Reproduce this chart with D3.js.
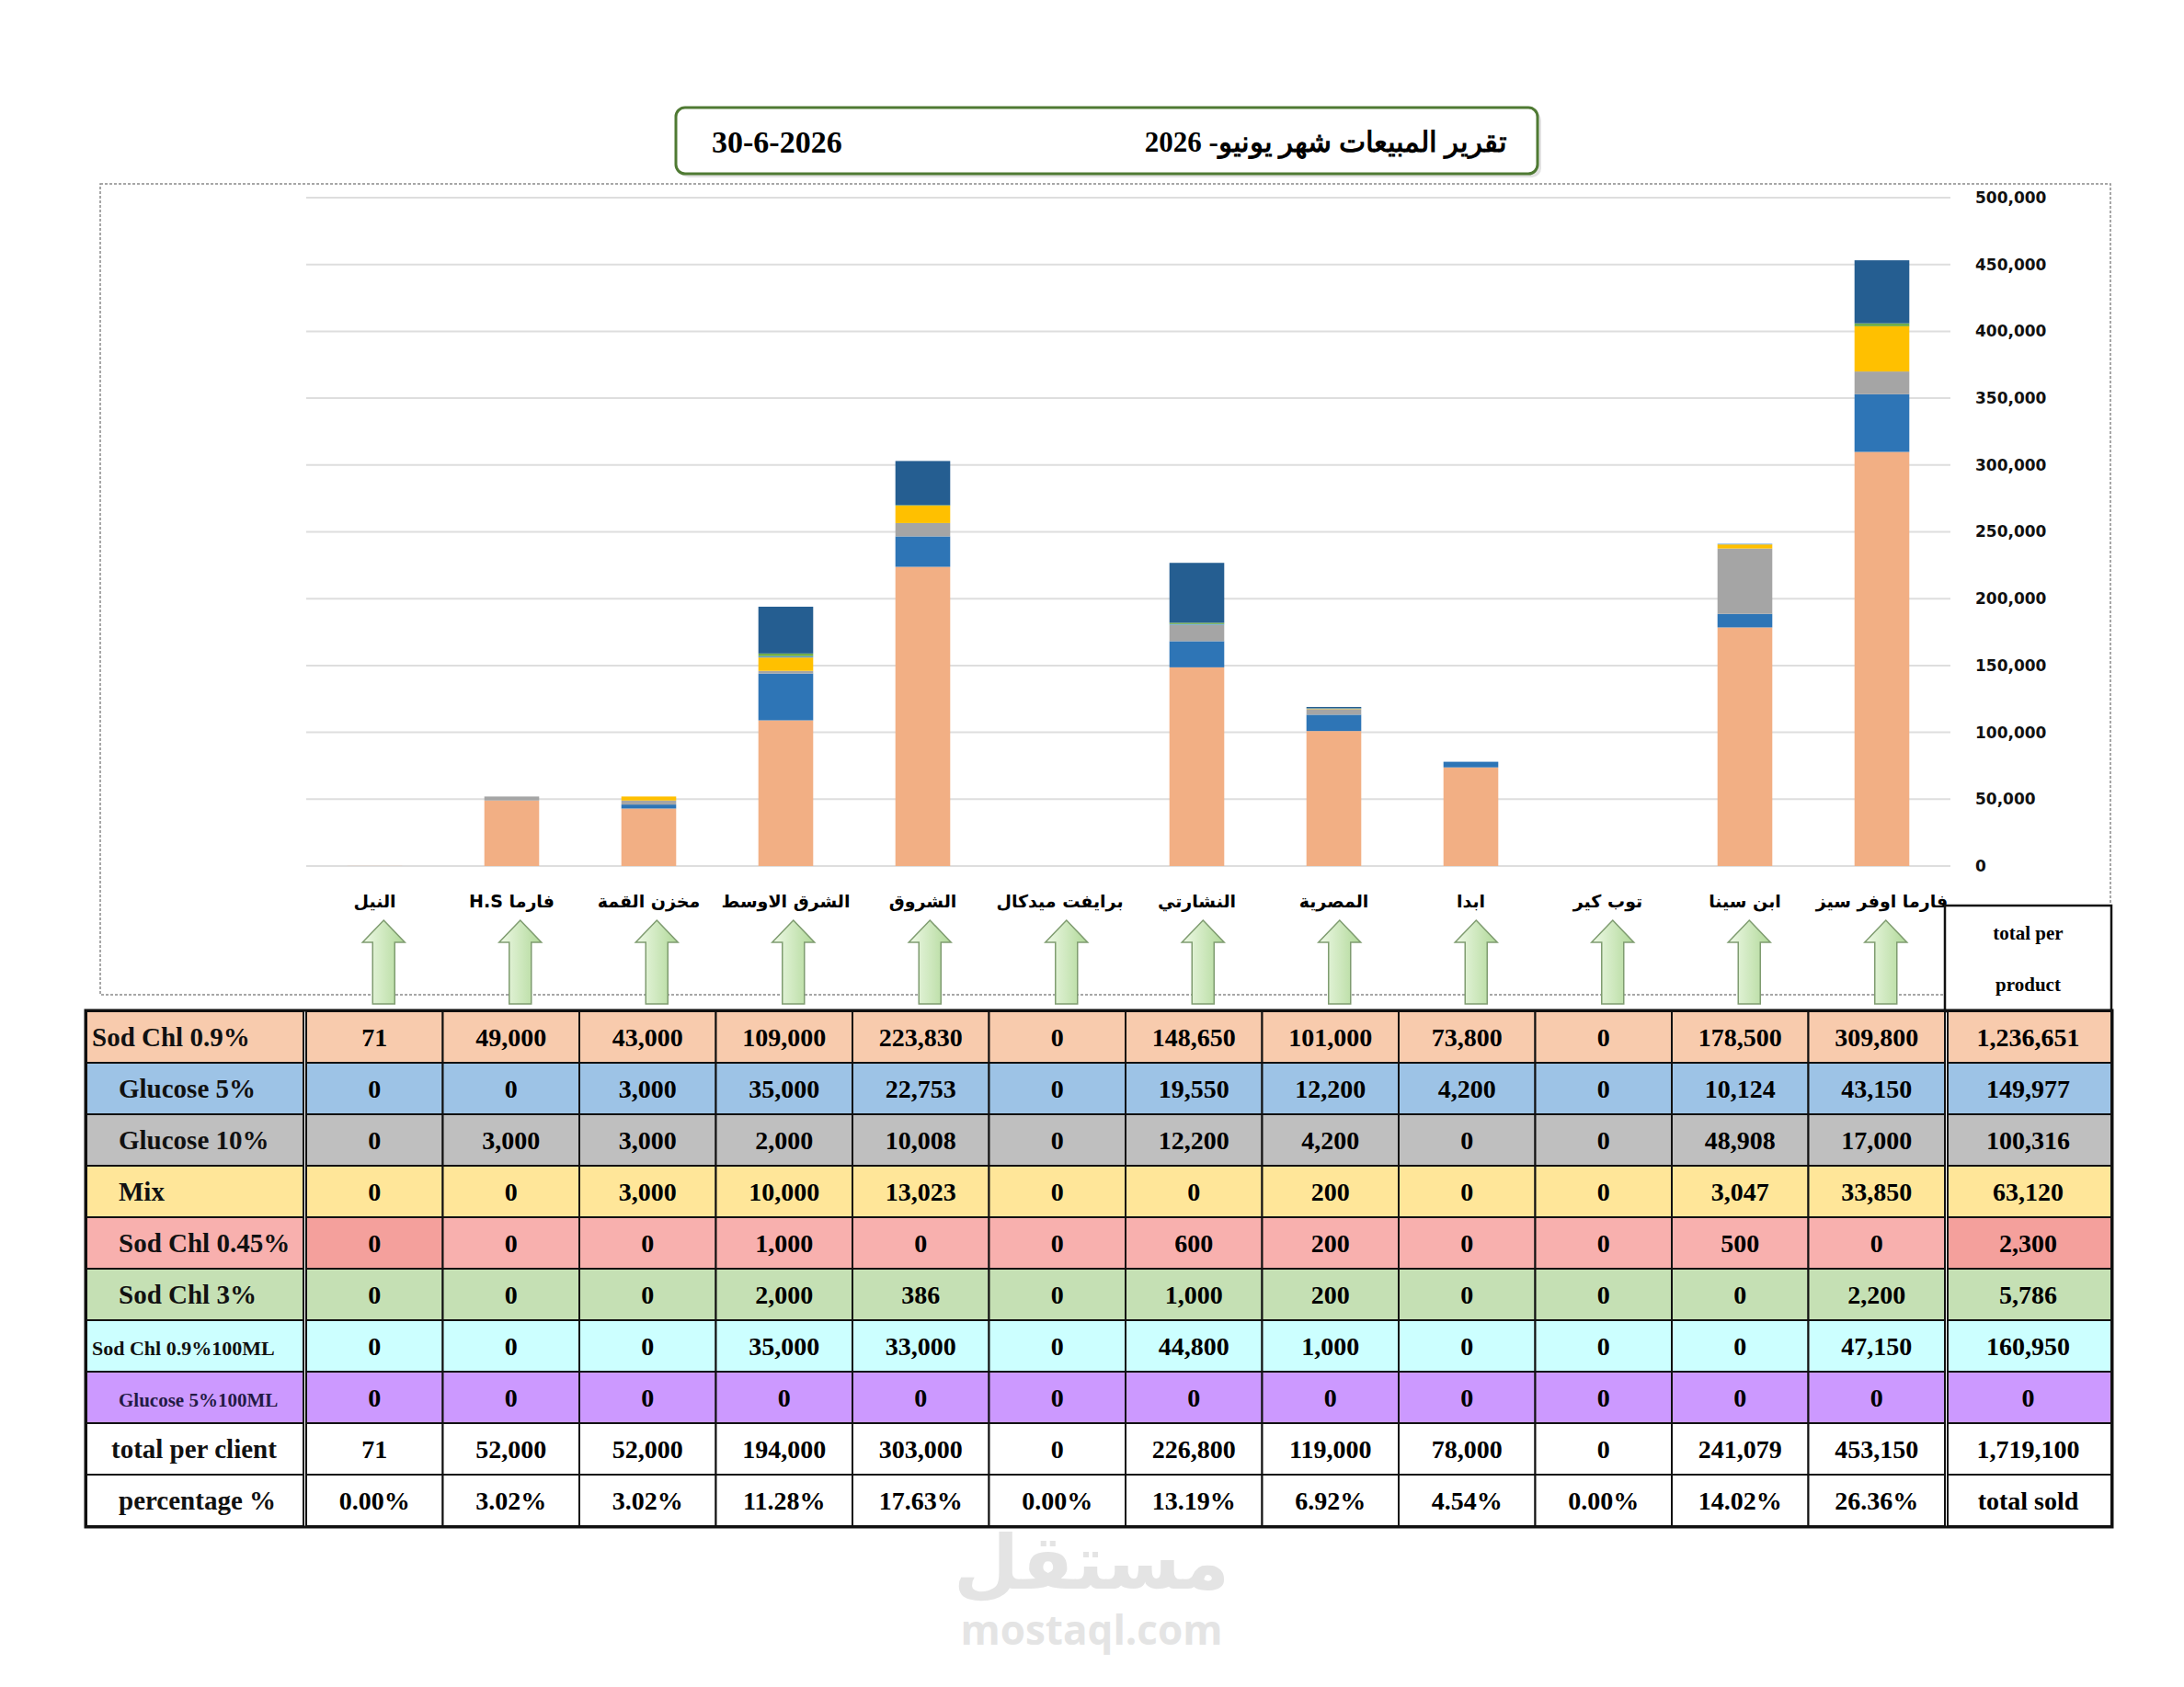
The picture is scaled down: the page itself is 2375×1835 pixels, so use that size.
<!DOCTYPE html>
<html>
<head>
<meta charset="utf-8">
<script src="https://cdn.jsdelivr.net/npm/d3@7"></script>
<style>
  body { margin: 0; background: #fff; }
  text { font-weight: bold; }
</style>
</head>
<body>
<div id="chart"></div>
<script>
// monthly sales report: stacked bars per client + table of product counts under it

// clients, left to right as in the sheet
var clients = ["النيل", "فارما H.S", "مخزن القمة", "الشرق الاوسط", "الشروق", "برايفت ميدكال",
  "النشارتي", "المصرية", "ابدا", "توب كير", "ابن سينا", "فارما اوفر سيز"];

// products (table rows / stack order)
var products = ["Sod Chl 0.9%", "Glucose 5%", "Glucose 10%", "Mix", "Sod Chl 0.45%",
  "Sod Chl 3%", "Sod Chl 0.9%100ML", "Glucose 5%100ML"];

// sold units per client, one array per product
var sodChl09    = [71, 49000, 43000, 109000, 223830, 0, 148650, 101000, 73800, 0, 178500, 309800];
var glucose5    = [0, 0, 3000, 35000, 22753, 0, 19550, 12200, 4200, 0, 10124, 43150];
var glucose10   = [0, 3000, 3000, 2000, 10008, 0, 12200, 4200, 0, 0, 48908, 17000];
var mix         = [0, 0, 3000, 10000, 13023, 0, 0, 200, 0, 0, 3047, 33850];
var sodChl045   = [0, 0, 0, 1000, 0, 0, 600, 200, 0, 0, 500, 0];
var sodChl3     = [0, 0, 0, 2000, 386, 0, 1000, 200, 0, 0, 0, 2200];
var sodChl09_100 = [0, 0, 0, 35000, 33000, 0, 44800, 1000, 0, 0, 0, 47150];
var glucose5_100 = [0, 0, 0, 0, 0, 0, 0, 0, 0, 0, 0, 0];

var yTicks = [0, 50000, 100000, 150000, 200000, 250000, 300000, 350000, 400000, 450000, 500000];

var series = [sodChl09, glucose5, glucose10, mix, sodChl045, sodChl3, sodChl09_100, glucose5_100];

// bar colours (excel chart) and row colours (table)
var barColors = ["#F2AF84", "#2E75B6", "#A5A5A5", "#FFC000", "#5B9BD5", "#70AD47", "#255E91", "#7030A0"];
var rowColors = ["#F8CBAD", "#9DC3E6", "#BFBFBF", "#FFE699", "#F8B0AE", "#C5E0B4", "#CCFFFF", "#CC99FF"];

var svgWidth = 2375;
var svgHeight = 1835;

var svg = d3.select("#chart")
  .append("svg")
  .attr("width", svgWidth)
  .attr("height", svgHeight)
  .style("font-family", "'Liberation Serif', 'Times New Roman', serif");

// build one row object per client for d3.stack
var data = clients.map(function (c, i) {
  var row = { client: c };
  products.forEach(function (p, j) { row[p] = series[j][i]; });
  return row;
});
var clientTotals = clients.map(function (c, i) { return d3.sum(series, s => s[i]); });
var productTotals = series.map(s => d3.sum(s));
var grandTotal = d3.sum(clientTotals);

var fmt = d3.format(",");

// ---------- title box ----------
svg.append("rect")
  .attr("x", 739).attr("y", 121).attr("width", 937).attr("height", 72)
  .attr("rx", 10).attr("fill", "#cfcfcf").attr("opacity", 0.6);
svg.append("rect")
  .attr("x", 735).attr("y", 117).attr("width", 937).attr("height", 72)
  .attr("rx", 10).attr("fill", "#fff").attr("stroke", "#4f7a33").attr("stroke-width", 3);

svg.append("text")
  .attr("x", 1639).attr("y", 165)
  .attr("direction", "rtl")
  .attr("text-anchor", "start")
  .attr("font-size", 31)
  .text("تقرير المبيعات شهر يونيو- 2026");

svg.append("text")
  .attr("x", 774).attr("y", 166)
  .attr("font-size", 34)
  .text("30-6-2026");

// ---------- chart area ----------
svg.append("rect")
  .attr("x", 109).attr("y", 200).attr("width", 2186).attr("height", 882)
  .attr("fill", "none").attr("stroke", "#8a8a8a")
  .attr("stroke-width", 1.5).attr("stroke-dasharray", "3,2");

var x = d3.scaleBand()
  .domain(clients)
  .range([333, 2121])
  .paddingInner(0.6)
  .paddingOuter(0.3);

var y = d3.scaleLinear()
  .domain([0, 500000])
  .range([942, 215]);

// gridlines
svg.append("g")
  .selectAll("line")
  .data(yTicks)
  .enter()
  .append("line")
  .attr("x1", 333).attr("x2", 2121)
  .attr("y1", d => y(d)).attr("y2", d => y(d))
  .attr("stroke", "#dedede").attr("stroke-width", 2);

// right axis labels
var rightAxis = d3.axisRight(y).tickValues(yTicks).tickSize(0).tickPadding(27).tickFormat(fmt);
var yAxis = svg.append("g")
  .attr("transform", "translate(2121,0)")
  .call(rightAxis);
yAxis.select(".domain").remove();
yAxis.selectAll("text")
  .attr("font-family", "'DejaVu Sans', Verdana, sans-serif")
  .attr("font-size", 17)
  .attr("font-weight", "bold")
  .attr("fill", "#111");

// stacked bars
var stack = d3.stack().keys(products);
var layers = stack(data);

svg.append("g")
  .selectAll("g")
  .data(layers)
  .enter()
  .append("g")
  .attr("fill", (d, i) => barColors[i])
  .selectAll("rect")
  .data(d => d)
  .enter()
  .append("rect")
  .attr("x", d => x(d.data.client))
  .attr("y", d => y(d[1]))
  .attr("width", x.bandwidth())
  .attr("height", d => y(d[0]) - y(d[1]));

// category labels
svg.append("g")
  .selectAll("text")
  .data(clients)
  .enter()
  .append("text")
  .attr("x", d => x(d) + x.bandwidth() / 2)
  .attr("y", 987)
  .attr("direction", "rtl")
  .attr("text-anchor", "middle")
  .attr("font-family", "'DejaVu Sans', sans-serif")
  .attr("font-size", 19)
  .text(d => d);

// ---------- table ----------
var tableLeft = 94, labelRight = 333, dataRight = 2115, tableRight = 2296;
var rowNames = products.concat(["total per client", "percentage %"]);

var col = d3.scaleBand().domain(clients).range([labelRight, dataRight]);
var row = d3.scaleBand().domain(d3.range(rowNames.length)).range([1100, 1660]);

// arrows from table columns up to the bars
var defs = svg.append("defs");
var grad = defs.append("linearGradient").attr("id", "arrowFill");
grad.append("stop").attr("offset", "0%").attr("stop-color", "#eef9e6");
grad.append("stop").attr("offset", "100%").attr("stop-color", "#b0d898");

var arrowPath = function (cx) {
  var top = 1001, headH = 24, headW = 23, shaft = 12, bottom = 1092;
  return "M" + cx + "," + top +
    "L" + (cx + headW) + "," + (top + headH) +
    "L" + (cx + shaft) + "," + (top + headH) +
    "L" + (cx + shaft) + "," + bottom +
    "L" + (cx - shaft) + "," + bottom +
    "L" + (cx - shaft) + "," + (top + headH) +
    "L" + (cx - headW) + "," + (top + headH) + "Z";
};

svg.append("g")
  .selectAll("path")
  .data(clients)
  .enter()
  .append("path")
  .attr("d", d => arrowPath(col(d) + col.bandwidth() / 2 + 10))
  .attr("fill", "url(#arrowFill)")
  .attr("stroke", "#7f9c70")
  .attr("stroke-width", 1.5);

// header cell "total per product"
svg.append("rect")
  .attr("x", dataRight).attr("y", 985)
  .attr("width", tableRight - dataRight).attr("height", 115)
  .attr("fill", "#fff").attr("stroke", "#111").attr("stroke-width", 2.5);
svg.append("text")
  .attr("x", (dataRight + tableRight) / 2).attr("y", 1022)
  .attr("text-anchor", "middle").attr("font-size", 21)
  .text("total  per");
svg.append("text")
  .attr("x", (dataRight + tableRight) / 2).attr("y", 1078)
  .attr("text-anchor", "middle").attr("font-size", 21)
  .text("product");

var table = svg.append("g");

rowNames.forEach(function (name, r) {
  var fill = r < products.length ? rowColors[r] : "#fff";
  var ry = row(r), rh = row.bandwidth();

  // label cell
  table.append("rect")
    .attr("x", tableLeft).attr("y", ry)
    .attr("width", labelRight - tableLeft - 3).attr("height", rh)
    .attr("fill", fill).attr("stroke", "#111").attr("stroke-width", 2);

  var lx = 129, fs = 29;
  if (r === 0 || r === 6) lx = 100;
  if (r === 6) fs = 22;
  if (r === 7) fs = 21;
  if (r === 8) lx = 121;
  table.append("text")
    .attr("x", lx).attr("y", ry + rh / 2 + 10)
    .attr("font-size", fs)
    .attr("fill", r === 7 ? "#231a45" : "#111")
    .text(name);

  // client cells
  clients.forEach(function (c, i) {
    var cellFill = fill;
    if (r === 4 && i === 0) cellFill = "#F4A09C";
    table.append("rect")
      .attr("x", col(c)).attr("y", ry)
      .attr("width", col.bandwidth()).attr("height", rh)
      .attr("fill", cellFill).attr("stroke", "#111").attr("stroke-width", 2);

    var label;
    if (r < products.length) label = fmt(series[r][i]);
    else if (r === 8) label = fmt(clientTotals[i]);
    else label = d3.format(".2%")(clientTotals[i] / grandTotal);

    table.append("text")
      .attr("x", col(c) + col.bandwidth() / 2).attr("y", ry + rh / 2 + 10)
      .attr("text-anchor", "middle").attr("font-size", 28)
      .text(label);
  });

  // totals column
  var totFill = fill;
  if (r === 4) totFill = "#F4A09C";
  table.append("rect")
    .attr("x", dataRight + 3).attr("y", ry)
    .attr("width", tableRight - dataRight - 3).attr("height", rh)
    .attr("fill", totFill).attr("stroke", "#111").attr("stroke-width", 2);

  var totLabel;
  if (r < products.length) totLabel = fmt(productTotals[r]);
  else if (r === 8) totLabel = fmt(grandTotal);
  else totLabel = "total sold";
  table.append("text")
    .attr("x", (dataRight + tableRight) / 2).attr("y", ry + rh / 2 + 10)
    .attr("text-anchor", "middle").attr("font-size", 28)
    .text(totLabel);
});

// outer frame
table.append("rect")
  .attr("x", tableLeft - 1).attr("y", 1099)
  .attr("width", tableRight - tableLeft + 2).attr("height", 562)
  .attr("fill", "none").attr("stroke", "#111").attr("stroke-width", 3);

// ---------- watermark ----------
svg.append("text")
  .attr("x", 1187).attr("y", 1728)
  .attr("text-anchor", "middle")
  .attr("font-family", "'DejaVu Sans', sans-serif")
  .attr("font-size", 82)
  .attr("fill", "#e4e4e4")
  .text("مستقل");
svg.append("text")
  .attr("x", 1187).attr("y", 1789)
  .attr("text-anchor", "middle")
  .attr("font-family", "'Open Sans', sans-serif")
  .attr("font-size", 44)
  .attr("fill", "#e4e4e4")
  .text("mostaql.com");
</script>
</body>
</html>
